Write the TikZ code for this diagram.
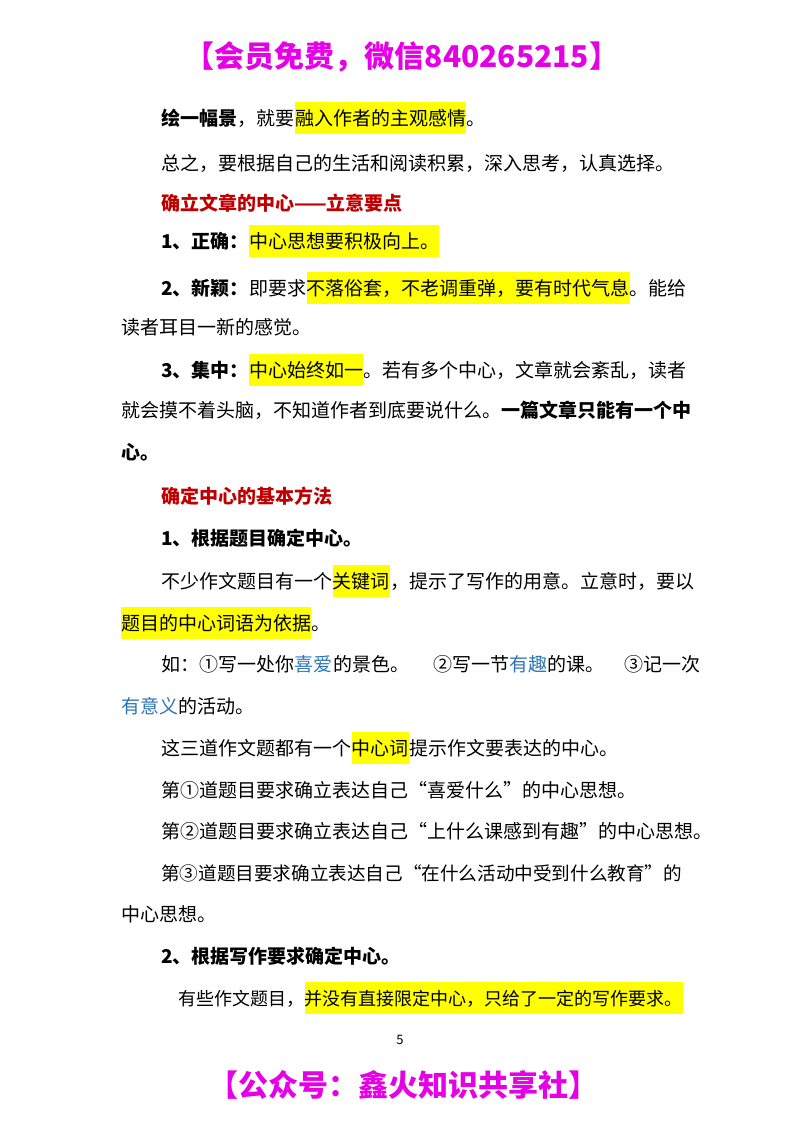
\documentclass[tikz,border=0pt]{standalone}
\usepackage{fontspec}
\setmainfont{Noto Sans CJK SC}
\usetikzlibrary{positioning}
\definecolor{hlyellow}{RGB}{255,255,0}
\definecolor{headred}{RGB}{192,0,0}
\definecolor{linkblue}{RGB}{46,117,182}
\definecolor{topmag}{RGB}{230,0,230}
\tikzset{
  txt/.style={anchor=base west, inner sep=0pt, text height=23pt, text depth=9pt, font=\fontsize{19}{19}\selectfont},
  hl/.style={txt, fill=hlyellow},
  bld/.style={txt, font=\fontsize{19}{19}\selectfont\bfseries},
  head/.style={bld, text=headred},
  blu/.style={txt, text=linkblue},
  banner/.style={inner sep=0pt, text=topmag, font=\fontsize{30}{30}\selectfont\bfseries}
}
\begin{document}
\begin{tikzpicture}[x=1pt,y=-1pt]
\useasboundingbox (0,0) rectangle (800,1132);
\node[banner] (top) at (402,57) {【会员免费，微信840265215】};
% paragraph: scene
\node[bld] (l1a) at (161,125) {绘一幅景};
\node[txt] (l1b) at (l1a.base east) {，就要};
\node[hl] (l1c) at (l1b.base east) {融入作者的主观感情};
\node[txt] (l1d) at (l1c.base east) {。};
\node[txt] (l2) at (161,170) {总之，要根据自己的生活和阅读积累，深入思考，认真选择。};
% heading 1
\node[head] (h1) at (161,210) {确立文章的中心——立意要点};
\node[bld] (l4a) at (161,248) {1、正确：};
\node[hl] (l4b) at (l4a.base east) {中心思想要积极向上。};
\node[bld] (l5a) at (161,295) {2、新颖：};
\node[txt] (l5b) at (l5a.base east) {即要求};
\node[hl] (l5c) at (l5b.base east) {不落俗套，不老调重弹，要有时代气息};
\node[txt] (l5d) at (l5c.base east) {。能给};
\node[txt] (l6) at (121,334) {读者耳目一新的感觉。};
\node[bld] (l7a) at (161,377) {3、集中：};
\node[hl] (l7b) at (l7a.base east) {中心始终如一};
\node[txt] (l7c) at (l7b.base east) {。若有多个中心，文章就会紊乱，读者};
\node[txt] (l8a) at (121,417) {就会摸不着头脑，不知道作者到底要说什么。};
\node[bld] (l8b) at (l8a.base east) {一篇文章只能有一个中};
\node[bld] (l9) at (121,459) {心。};
% heading 2
\node[head] (h2) at (161,503) {确定中心的基本方法};
\node[bld] (l11) at (161,545) {1、根据题目确定中心。};
\node[txt] (l12a) at (161,588) {不少作文题目有一个};
\node[hl] (l12b) at (l12a.base east) {关键词};
\node[txt] (l12c) at (l12b.base east) {，提示了写作的用意。立意时，要以};
\node[hl] (l13a) at (121,630) {题目的中心词语为依据};
\node[txt] (l13b) at (l13a.base east) {。};
\node[txt] (l14a) at (121,671) {\hspace{40pt}如：①写一处你};
\node[blu] (l14b) at (l14a.base east) {喜爱};
\node[txt] (l14c) at (l14b.base east) {的景色。\hspace{24pt}②写一节};
\node[blu] (l14d) at (l14c.base east) {有趣};
\node[txt] (l14e) at (l14d.base east) {的课。\hspace{20pt}③记一次};
\node[blu] (l15a) at (121,713) {有意义};
\node[txt] (l15b) at (l15a.base east) {的活动。};
\node[txt] (l16a) at (161,755) {这三道作文题都有一个};
\node[hl] (l16b) at (l16a.base east) {中心词};
\node[txt] (l16c) at (l16b.base east) {提示作文要表达的中心。};
\node[txt] (l17) at (161,797) {第①道题目要求确立表达自己“喜爱什么”的中心思想。};
\node[txt] (l18) at (161,838) {第②道题目要求确立表达自己“上什么课感到有趣”的中心思想。};
\node[txt, font=\fontsize{18.6}{19}\selectfont] (l19) at (161,880) {第③道题目要求确立表达自己“在什么活动中受到什么教育”的};
\node[txt] (l20) at (121,921) {中心思想。};
\node[bld] (l21) at (161,963) {2、根据写作要求确定中心。};
\node[txt, font=\fontsize{18}{19}\selectfont] (l22a) at (178,1005) {有些作文题目，};
\node[hl, font=\fontsize{18}{19}\selectfont] (l22b) at (l22a.base east) {并没有直接限定中心，只给了一定的写作要求。};
\node[inner sep=0pt, font=\fontsize{13}{13}\selectfont] (pg) at (400,1040) {5};
\node[banner] (bot) at (403,1085) {【公众号：鑫火知识共享社】};
\end{tikzpicture}
\end{document}
